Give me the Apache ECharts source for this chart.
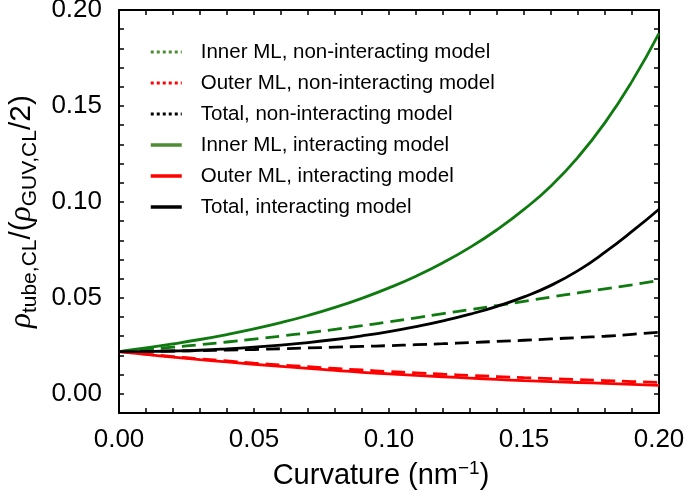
<!DOCTYPE html>
<html>
<head>
<meta charset="utf-8">
<script src="https://cdn.jsdelivr.net/npm/echarts@6/dist/echarts.min.js"></script>
<style>html,body{margin:0;padding:0;background:#fff}#chart{width:685px;height:500px}</style>
</head>
<body>
<div id="chart"></div>
<script>
const curvature = [0.00,0.01,0.02,0.03,0.04,0.05,0.06,0.07,0.08,0.09,0.10,0.11,0.12,0.13,0.14,0.15,0.16,0.17,0.18,0.19,0.20];
const innerNonInteracting = [0.0220,0.0231,0.0243,0.0256,0.0270,0.0285,0.0301,0.0318,0.0336,0.0355,0.0375,0.0396,0.0418,0.0439,0.0460,0.0482,0.0504,0.0526,0.0547,0.0568,0.0590];
const outerNonInteracting = [0.0220,0.0207,0.0194,0.0182,0.0171,0.0160,0.0150,0.0141,0.0132,0.0124,0.0116,0.0109,0.0102,0.0096,0.0090,0.0084,0.0079,0.0074,0.0069,0.0064,0.0059];
const totalNonInteracting = [0.0220,0.0221,0.0223,0.0225,0.0228,0.0231,0.0235,0.0239,0.0243,0.0247,0.0251,0.0256,0.0261,0.0267,0.0273,0.0279,0.0286,0.0293,0.0300,0.0310,0.0321];
const innerInteracting = [0.0220,0.0239,0.0260,0.0283,0.0309,0.0338,0.0371,0.0408,0.0450,0.0498,0.0552,0.0613,0.0683,0.0763,0.0855,0.0961,0.1083,0.1233,0.1413,0.1628,0.1878];
const outerInteracting = [0.0220,0.0205,0.0191,0.0178,0.0166,0.0154,0.0143,0.0132,0.0122,0.0112,0.0104,0.0096,0.0089,0.0082,0.0075,0.0069,0.0064,0.0059,0.0054,0.0049,0.0044];
const totalInteracting = [0.0220,0.0221,0.0223,0.0227,0.0234,0.0243,0.0254,0.0267,0.0283,0.0302,0.0324,0.0350,0.0380,0.0415,0.0456,0.0505,0.0565,0.0642,0.0738,0.0846,0.0962];

const names = [
  'Inner ML, non-interacting model',
  'Outer ML, non-interacting model',
  'Total, non-interacting model',
  'Inner ML, interacting model',
  'Outer ML, interacting model',
  'Total, interacting model'
];

const GREEN = '#0f7a0f', RED = '#ff0000', BLACK = '#000000';
const LEG_GREEN = '#4e8c34';

function pts(arr){ return curvature.map((x,i)=>[x, arr[i]]); }
function mk(name, arr, color, dashed){
  return {
    name: name, type: 'line', data: pts(arr), symbol: 'none', showSymbol: false, smooth: 0.5,
    xAxisIndex: 0, yAxisIndex: 0,
    lineStyle: {color: color, width: 2.8, type: dashed ? [14, 7] : 'solid'},
    itemStyle: {color: color}
  };
}
function lab(v){
  const k = Math.round(v*100);
  return (Math.abs(k) % 5 === 0) ? (k/100).toFixed(2) : '';
}
const FONT = 'Liberation Sans';
const tick = {show: true, inside: true, length: 5, lineStyle: {color: '#000', width: 1.5}};
const line = {show: true, onZero: false, lineStyle: {color: '#000', width: 2}};
function legItem(i, color, dotted){
  return {
    name: names[i],
    lineStyle: {color: color, type: dotted ? [3,3] : 'solid', width: dotted ? 3 : 3.5, opacity: 1},
    itemStyle: {color: color, opacity: 0, borderWidth: 0}
  };
}

const chart = echarts.init(document.getElementById('chart'), null, {renderer: 'canvas'});
chart.setOption({
  animation: false,
  backgroundColor: '#fff',
  grid: {left: 119, right: 26, top: 10, bottom: 87, containLabel: false, outerBoundsMode: 'none'},
  legend: {
    left: 149, top: 40, orient: 'vertical', padding: 0,
    itemWidth: 31, itemHeight: 14, itemGap: 7,
    textStyle: {fontFamily: FONT, fontSize: 20.5, color: '#000', lineHeight: 24, padding: [0,0,0,14]},
    data: [
      legItem(0, LEG_GREEN, true),
      legItem(1, RED, true),
      legItem(2, BLACK, true),
      legItem(3, LEG_GREEN, false),
      legItem(4, RED, false),
      legItem(5, BLACK, false)
    ]
  },
  xAxis: [
    {
      type: 'value', min: 0, max: 0.2, interval: 0.01, position: 'bottom',
      axisLine: line, axisTick: tick, splitLine: {show: false},
      axisLabel: {formatter: lab, fontFamily: FONT, fontSize: 26, color: '#000', margin: 14, lineHeight: 26},
      name: '{a|Curvature (nm}{s|−1}{a|)}', nameLocation: 'middle', nameGap: 41,
      nameTextStyle: {
        fontFamily: FONT, color: '#000', padding: [0, 16, 0, 0],
        rich: {
          a: {fontFamily: FONT, fontSize: 29, color: '#000', lineHeight: 32, padding: [4,0,0,0], verticalAlign: 'bottom'},
          s: {fontFamily: FONT, fontSize: 19, color: '#000', lineHeight: 20, verticalAlign: 'top'}
        }
      }
    },
    {
      type: 'value', min: 0, max: 0.2, interval: 0.01, position: 'top',
      axisLine: line, axisTick: tick, splitLine: {show: false}, axisLabel: {show: false}
    }
  ],
  yAxis: [
    {
      type: 'value', min: -0.01, max: 0.2, interval: 0.01, position: 'left',
      axisLine: line, axisTick: tick, splitLine: {show: false},
      axisLabel: {formatter: lab, fontFamily: FONT, fontSize: 26, color: '#000', margin: 17},
      name: '{r|ρ}{s|tube,CL}{n|/(}{r|ρ}{s|GUV,CL}{n|/2)}',
      nameLocation: 'middle', nameRotate: 90, nameGap: 78,
      nameTextStyle: {
        color: '#000',
        rich: {
          r: {fontFamily: 'Liberation Serif', fontStyle: 'italic', fontSize: 31, color: '#000', lineHeight: 34, verticalAlign: 'top'},
          n: {fontFamily: FONT, fontSize: 30, color: '#000', lineHeight: 34, verticalAlign: 'top'},
          s: {fontFamily: FONT, fontSize: 21, color: '#000', lineHeight: 22, padding: [15,0,0,0], verticalAlign: 'bottom'}
        }
      }
    },
    {
      type: 'value', min: -0.01, max: 0.2, interval: 0.01, position: 'right',
      axisLine: line, axisTick: tick, splitLine: {show: false}, axisLabel: {show: false}
    }
  ],
  series: [
    mk(names[0], innerNonInteracting, GREEN, true),
    mk(names[1], outerNonInteracting, RED, true),
    mk(names[2], totalNonInteracting, BLACK, true),
    mk(names[3], innerInteracting, GREEN, false),
    mk(names[4], outerInteracting, RED, false),
    mk(names[5], totalInteracting, BLACK, false)
  ]
});
</script>
</body>
</html>
